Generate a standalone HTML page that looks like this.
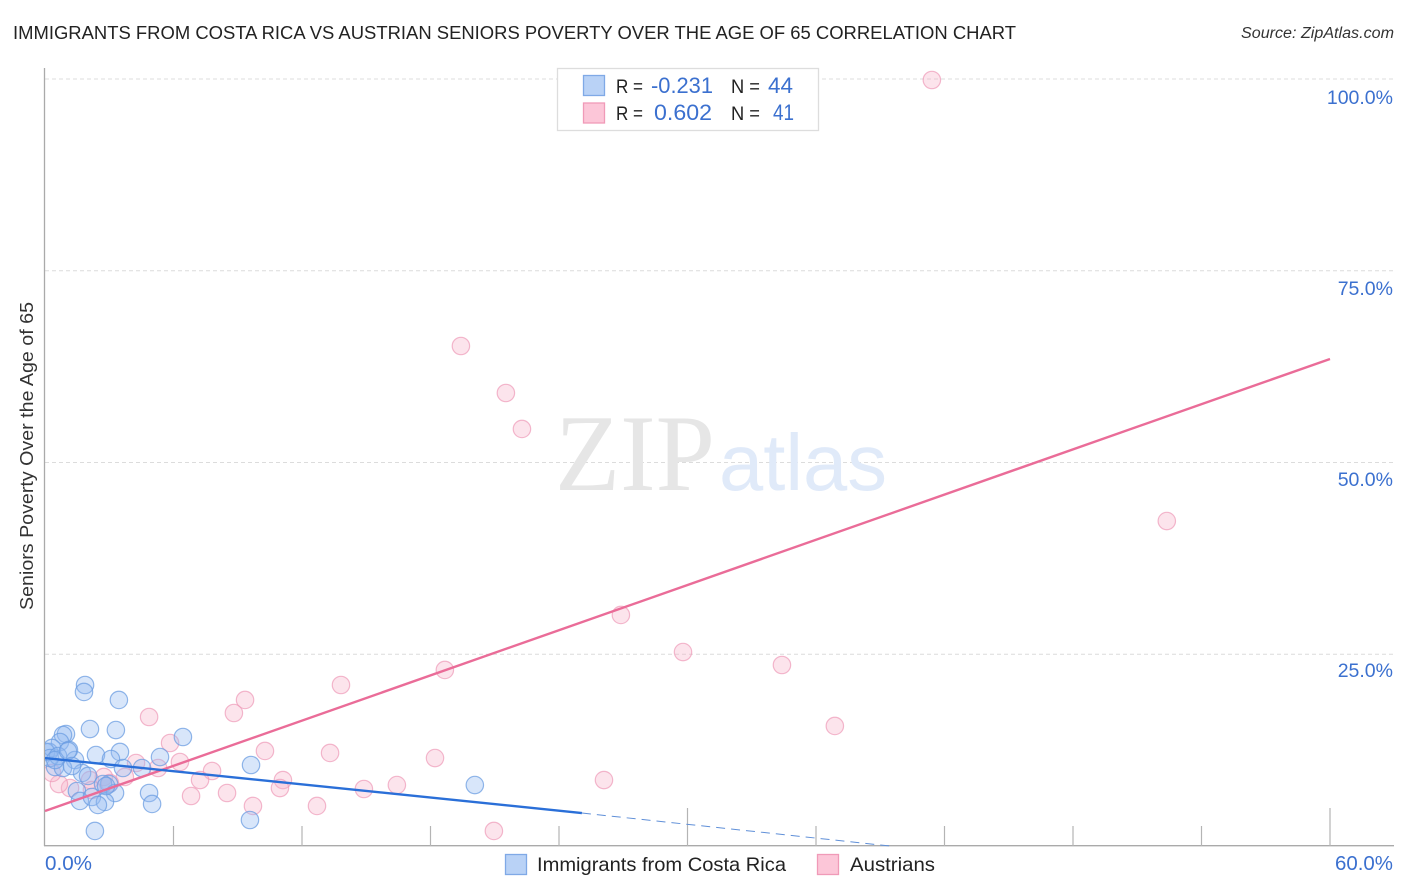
<!DOCTYPE html>
<html lang="en">
<head>
<meta charset="utf-8">
<title>Immigrants from Costa Rica vs Austrian Seniors Poverty Chart</title>
<style>
html,body{margin:0;padding:0;background:#fff;width:1406px;height:892px;overflow:hidden}
svg{display:block;font-family:"Liberation Sans",sans-serif}
</style>
</head>
<body>
<svg id="chart" xmlns="http://www.w3.org/2000/svg" width="1406" height="892" viewBox="0 0 1406 892">
  <defs><clipPath id="plot-clip"><rect x="45" y="60" width="1350" height="786"/></clipPath></defs>
  <rect x="0" y="0" width="1406" height="892" fill="#fff"/>
  <text x="13" y="39" font-size="18.5" fill="#222" textLength="1003" lengthAdjust="spacingAndGlyphs">IMMIGRANTS FROM COSTA RICA VS AUSTRIAN SENIORS POVERTY OVER THE AGE OF 65 CORRELATION CHART</text>
  <text x="1241" y="38" font-size="15.5" font-style="italic" fill="#333" textLength="153" lengthAdjust="spacingAndGlyphs">Source: ZipAtlas.com</text>
  <g id="grid"></g>
  <text x="555" y="490" font-family="'Liberation Serif',serif" font-size="109" fill="#e6e6e6" textLength="160" lengthAdjust="spacingAndGlyphs">ZIP</text>
  <text x="719" y="490" font-size="80" fill="#e0eaf9" textLength="168" lengthAdjust="spacingAndGlyphs">atlas</text>
  <g id="axes"></g>
  <g id="pink-points" clip-path="url(#plot-clip)"></g>
  <g id="blue-points" clip-path="url(#plot-clip)"></g>
  <g id="trends"></g>
  <g id="y-labels"></g>
  <g id="x-labels"></g>
  <text transform="translate(33,610) rotate(-90)" font-size="18.5" fill="#333" textLength="308" lengthAdjust="spacingAndGlyphs">Seniors Poverty Over the Age of 65</text>

  <g>
    <rect x="557.5" y="68.5" width="261" height="62" fill="#fff" stroke="#ddd" stroke-width="1.3"/>
    <rect x="583.5" y="75.5" width="21" height="20" fill="#b9d2f6" stroke="#7fa9e6" stroke-width="1.3"/>
    <rect x="583.5" y="103" width="21" height="20" fill="#fcc6d8" stroke="#f09ab8" stroke-width="1.3"/>
    <text x="616" y="93" font-size="19.5" fill="#222" textLength="27" lengthAdjust="spacingAndGlyphs">R =</text>
    <text x="651" y="93" font-size="22" fill="#3b70cf" textLength="62" lengthAdjust="spacingAndGlyphs">-0.231</text>
    <text x="731" y="93" font-size="19.5" fill="#222" textLength="29" lengthAdjust="spacingAndGlyphs">N =</text>
    <text x="768" y="93" font-size="22" fill="#3b70cf" textLength="25" lengthAdjust="spacingAndGlyphs">44</text>
    <text x="616" y="120" font-size="19.5" fill="#222" textLength="27" lengthAdjust="spacingAndGlyphs">R =</text>
    <text x="654" y="120" font-size="22" fill="#3b70cf" textLength="58" lengthAdjust="spacingAndGlyphs">0.602</text>
    <text x="731" y="120" font-size="19.5" fill="#222" textLength="29" lengthAdjust="spacingAndGlyphs">N =</text>
    <text x="773" y="120" font-size="22" fill="#3b70cf" textLength="21" lengthAdjust="spacingAndGlyphs">41</text>
  </g>

  <g>
    <rect x="505.5" y="854.5" width="21" height="20" fill="#b9d2f6" stroke="#7fa9e6" stroke-width="1.3"/>
    <text x="537" y="871" font-size="19.5" fill="#222" textLength="249" lengthAdjust="spacingAndGlyphs">Immigrants from Costa Rica</text>
    <rect x="817.5" y="854.5" width="21" height="20" fill="#fcc6d8" stroke="#f09ab8" stroke-width="1.3"/>
    <text x="850" y="871" font-size="19.5" fill="#222" textLength="85" lengthAdjust="spacingAndGlyphs">Austrians</text>
  </g>
</svg>
<script>
const xTicks = [6, 12, 18, 24, 30, 36, 42, 48, 54, 60];
const xMajorTicks = [30, 60];
const xTickLabels = ["0.0%", "60.0%"];
const yTicks = [25, 50, 75, 100];
const yTickLabels = ["25.0%", "50.0%", "75.0%", "100.0%"];

const blueX = [1.87,1.82,3.45,2.10,3.31,0.98,0.84,0.70,1.12,0.19,2.38,3.50,3.08,1.40,6.44,5.37,4.53,3.64,9.62,0.47,0.84,1.73,2.01,2.99,2.71,3.27,1.49,1.63,2.19,2.80,2.47,4.86,5.00,9.57,2.33,20.07,0.05,0.33,0.23,0.61,0.47,1.07,1.26,2.85];
const blueY = [20.99,20.08,19.04,15.25,15.12,14.60,14.47,13.56,12.52,12.26,11.86,12.26,11.34,11.21,14.21,11.60,10.17,10.17,10.56,10.30,10.17,9.52,9.13,8.08,8.08,6.91,7.17,5.87,6.39,5.74,5.35,6.91,5.48,3.39,1.96,7.95,12.26,12.78,11.47,11.73,11.21,12.39,10.43,7.82];

const pinkX = [41.41,19.42,21.52,22.27,52.38,26.89,29.79,34.41,13.82,18.67,9.34,8.82,4.86,36.88,5.84,10.27,13.31,18.21,6.30,7.80,11.11,10.97,16.43,14.89,26.10,8.50,6.82,9.71,12.70,20.96,7.24,4.25,5.28,3.73,2.75,3.03,2.10,1.17,0.65,0.33,2.19];
const pinkY = [99.87,65.19,59.06,54.37,42.37,30.12,25.29,23.60,20.99,22.95,19.04,17.34,16.82,15.65,13.43,12.39,12.13,11.47,10.95,9.78,8.60,7.56,7.95,7.43,8.60,6.91,6.52,5.22,5.22,1.96,8.60,10.82,10.17,9.00,9.00,8.21,8.60,7.56,8.08,9.52,7.30];

const blueTrendX = [0, 25.07];
const blueTrendY = [11.47, 4.30];
const blueDashX = [25.07, 39.45];
const blueDashY = [4.30, 0];
const pinkTrendX = [0, 60];
const pinkTrendY = [4.56, 63.5];

const NS = "http://www.w3.org/2000/svg";
function sx(v){ return 45 + v * (1330 - 45) / 60; }
function sy(v){ return 846 - v * (846 - 79) / 100; }
function labelY(v){ return 104 + (100 - v) * 7.64; }
function make(tag, attrs, parent){
  const el = document.createElementNS(NS, tag);
  Object.keys(attrs).forEach(function(k){ el.setAttribute(k, attrs[k]); });
  parent.appendChild(el);
  return el;
}

const grid = document.getElementById("grid");
yTicks.forEach(function(t){
  const el = make("line", {x1: 45, x2: 1394, y1: sy(t), y2: sy(t), stroke: "#dcdcdc", "stroke-width": 1, "stroke-dasharray": "4 3"}, grid);
  
  
});

const axes = document.getElementById("axes");
const yAxisLine = make("line", {x1: 44.5, x2: 44.5, y1: 68, y2: 846, stroke: "#aaa", "stroke-width": 1.3}, axes);


const xAxisLine = make("line", {x1: 44, x2: 1394, y1: 845.7, y2: 845.7, stroke: "#aaa", "stroke-width": 1.3}, axes);


xTicks.forEach(function(t){
  const top = xMajorTicks.indexOf(t) >= 0 ? 808 : 826;
  const el = make("line", {x1: sx(t), x2: sx(t), y1: top, y2: 846, stroke: "#b4b4b4", "stroke-width": 1.2}, axes);
  
  
});

const pinkGroup = document.getElementById("pink-points");
pinkX.forEach(function(v, i){
  const el = make("circle", {cx: sx(v), cy: sy(pinkY[i]), r: 8.7, fill: "#f8b4cb", "fill-opacity": 0.36, stroke: "#ee9ab8", "stroke-opacity": 0.7, "stroke-width": 1.2}, pinkGroup);
  
  
});

const blueGroup = document.getElementById("blue-points");
blueX.forEach(function(v, i){
  const el = make("circle", {cx: sx(v), cy: sy(blueY[i]), r: 8.7, fill: "#93bbf0", "fill-opacity": 0.36, stroke: "#6c9de2", "stroke-opacity": 0.75, "stroke-width": 1.2}, blueGroup);
  
  
});

const trends = document.getElementById("trends");
const pinkLine = make("line", {x1: sx(pinkTrendX[0]), y1: sy(pinkTrendY[0]), x2: sx(pinkTrendX[1]), y2: sy(pinkTrendY[1]), stroke: "#ea6c98", "stroke-width": 2.4}, trends);


const blueLine = make("line", {x1: sx(blueTrendX[0]), y1: sy(blueTrendY[0]), x2: sx(blueTrendX[1]), y2: sy(blueTrendY[1]), stroke: "#2a6fd8", "stroke-width": 2.4}, trends);


const blueDash = make("line", {x1: sx(blueDashX[0]), y1: sy(blueDashY[0]), x2: sx(blueDashX[1]), y2: sy(blueDashY[1]), stroke: "#5f8fd8", "stroke-width": 1, "stroke-dasharray": "9 6"}, trends);



const yLabelGroup = document.getElementById("y-labels");
yTicks.forEach(function(t, i){
  const el = make("text", {x: 1393, y: labelY(t), "font-size": 19.5, fill: "#3b70cf", "text-anchor": "end"}, yLabelGroup);
  el.textContent = yTickLabels[i];
  
  
});

const xLabelGroup = document.getElementById("x-labels");
const xStart = make("text", {x: 45, y: 870, "font-size": 20, fill: "#3b70cf", textLength: 47, lengthAdjust: "spacingAndGlyphs"}, xLabelGroup);
xStart.textContent = xTickLabels[0];


const xEnd = make("text", {x: 1335, y: 870, "font-size": 20, fill: "#3b70cf", textLength: 58, lengthAdjust: "spacingAndGlyphs"}, xLabelGroup);
xEnd.textContent = xTickLabels[1];


</script>
</body>
</html>
